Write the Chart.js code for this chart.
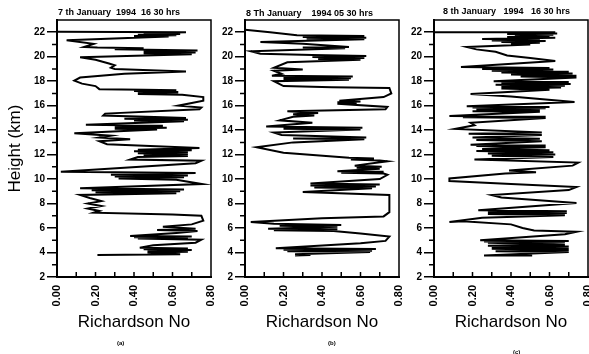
<!DOCTYPE html>
<html><head><meta charset="utf-8">
<script src="https://cdn.jsdelivr.net/npm/chart.js@4/dist/chart.umd.min.js"></script>
<style>
html,body{margin:0;padding:0;background:#fff;}
#wrap{position:relative;width:589px;height:354px;overflow:hidden;background:#fff;}
canvas{position:absolute;left:0;top:0;}
.t{position:absolute;font-family:'Liberation Sans',Arial,sans-serif;font-weight:bold;white-space:pre;color:#000;line-height:1;}
</style></head><body>
<div id="wrap">
<canvas id="ca" width="700" height="354" style="width:700px;height:354px"></canvas>
<canvas id="cb" width="700" height="354" style="width:700px;height:354px"></canvas>
<canvas id="cc" width="700" height="354" style="width:700px;height:354px"></canvas>
<div class="t" style="left:58px;top:8px;font-size:9px">7 th January  1994  16 30 hrs</div>
<div class="t" style="left:246px;top:9px;font-size:9px">8 Th January    1994 05 30 hrs</div>
<div class="t" style="left:443px;top:7px;font-size:9px">8 th January   1994   16 30 hrs</div>
<div class="t" style="left:117px;top:340px;font-size:6px">(a)</div>
<div class="t" style="left:328px;top:340px;font-size:6px">(b)</div>
<div class="t" style="left:513px;top:349px;font-size:6px">(c)</div>
</div>
<script>
// [height km, Richardson number] along each profile
const profileA = [[22.05,0.00],[22.0,0.67],[21.9,0.45],[21.85,0.64],[21.8,0.42],[21.75,0.62],[21.7,0.40],[21.65,0.58],[21.35,0.05],[21.05,0.19],[20.8,0.14],[20.75,0.21],[20.7,0.45],[20.6,0.30],[20.5,0.73],[20.42,0.45],[20.35,0.72],[20.28,0.45],[20.2,0.70],[19.95,0.12],[19.75,0.20],[19.45,0.27],[19.3,0.30],[19.1,0.28],[19.0,0.30],[18.8,0.67],[18.6,0.35],[18.3,0.12],[18.05,0.09],[17.8,0.13],[17.6,0.20],[17.35,0.22],[17.3,0.45],[17.25,0.62],[17.2,0.40],[17.12,0.63],[17.05,0.42],[17.0,0.63],[16.95,0.42],[16.9,0.65],[16.7,0.76],[16.4,0.76],[16.0,0.63],[15.85,0.75],[15.7,0.74],[15.35,0.25],[15.2,0.24],[15.05,0.55],[15.0,0.67],[14.93,0.35],[14.85,0.68],[14.78,0.40],[14.72,0.66],[14.45,0.15],[14.35,0.55],[14.28,0.30],[14.2,0.57],[14.12,0.30],[14.05,0.52],[13.75,0.09],[13.55,0.28],[13.4,0.22],[13.25,0.38],[13.1,0.22],[12.85,0.26],[12.55,0.74],[12.4,0.42],[12.35,0.70],[12.28,0.40],[12.2,0.68],[12.12,0.42],[12.05,0.68],[11.95,0.45],[11.88,0.68],[11.8,0.42],[11.6,0.38],[11.5,0.75],[11.3,0.72],[10.6,0.02],[10.5,0.72],[10.35,0.28],[10.3,0.68],[10.22,0.30],[10.15,0.66],[10.05,0.32],[9.95,0.62],[9.6,0.75],[9.25,0.12],[9.15,0.66],[9.08,0.18],[9.0,0.64],[8.92,0.20],[8.85,0.62],[8.7,0.12],[8.45,0.17],[8.2,0.23],[8.0,0.16],[7.8,0.23],[7.6,0.16],[7.4,0.22],[7.25,0.19],[7.1,0.60],[7.0,0.75],[6.6,0.76],[6.3,0.70],[6.1,0.55],[5.95,0.72],[5.85,0.52],[5.75,0.73],[5.6,0.62],[5.35,0.38],[5.3,0.70],[5.25,0.40],[5.2,0.68],[5.15,0.42],[5.05,0.75],[4.8,0.72],[4.6,0.50],[4.4,0.43],[4.33,0.68],[4.27,0.45],[4.2,0.70],[4.13,0.47],[4.07,0.68],[4.0,0.47],[3.85,0.64],[3.8,0.21]];
const profileB = [[22.2,0.00],[22.0,0.13],[21.75,0.27],[21.7,0.62],[21.62,0.30],[21.55,0.63],[21.48,0.32],[21.42,0.62],[21.2,0.08],[21.05,0.30],[20.8,0.54],[20.75,0.30],[20.7,0.52],[20.45,0.03],[20.25,0.08],[20.15,0.35],[20.05,0.63],[19.98,0.35],[19.9,0.62],[19.82,0.38],[19.75,0.60],[19.55,0.22],[19.1,0.15],[18.95,0.30],[18.85,0.15],[18.6,0.19],[18.45,0.14],[18.38,0.56],[18.3,0.20],[18.25,0.55],[18.18,0.20],[18.12,0.54],[18.0,0.15],[17.6,0.20],[17.5,0.45],[17.45,0.75],[17.0,0.76],[16.7,0.72],[16.4,0.49],[16.35,0.60],[16.28,0.48],[16.22,0.58],[16.15,0.48],[15.9,0.74],[15.7,0.73],[15.55,0.22],[15.4,0.38],[15.3,0.25],[15.2,0.36],[15.1,0.25],[14.8,0.18],[14.6,0.35],[14.3,0.11],[14.2,0.61],[14.12,0.20],[14.05,0.60],[13.8,0.15],[13.6,0.19],[13.4,0.63],[13.32,0.25],[13.25,0.62],[13.0,0.25],[12.6,0.06],[12.15,0.20],[11.75,0.54],[11.68,0.67],[11.6,0.55],[11.52,0.70],[11.45,0.74],[11.1,0.57],[11.0,0.71],[10.92,0.58],[10.85,0.70],[10.65,0.48],[10.6,0.72],[10.52,0.50],[10.45,0.72],[10.35,0.74],[10.0,0.70],[9.65,0.34],[9.55,0.70],[9.48,0.34],[9.4,0.68],[9.32,0.36],[9.25,0.66],[8.95,0.30],[8.7,0.75],[7.3,0.75],[6.95,0.72],[6.8,0.40],[6.5,0.03],[6.35,0.15],[6.25,0.50],[6.18,0.18],[6.1,0.48],[5.95,0.12],[5.9,0.48],[5.82,0.15],[5.75,0.46],[5.55,0.60],[5.3,0.75],[4.95,0.73],[4.75,0.60],[4.35,0.16],[4.28,0.68],[4.22,0.20],[4.15,0.66],[4.1,0.22],[4.05,0.65],[3.85,0.26],[3.8,0.34],[3.75,0.26]];
const profileC = [[22.0,0.00],[22.0,0.63],[21.95,0.40],[21.9,0.64],[21.85,0.38],[21.8,0.62],[21.75,0.42],[21.7,0.60],[21.62,0.38],[21.55,0.63],[21.45,0.25],[21.4,0.55],[21.33,0.30],[21.28,0.58],[21.2,0.35],[21.15,0.55],[21.08,0.40],[21.0,0.50],[20.8,0.17],[20.6,0.22],[20.4,0.32],[20.1,0.38],[19.9,0.50],[19.65,0.63],[19.15,0.14],[19.08,0.60],[19.0,0.25],[18.95,0.62],[18.85,0.30],[18.78,0.70],[18.7,0.35],[18.62,0.72],[18.55,0.40],[18.45,0.74],[18.38,0.45],[18.3,0.74],[18.0,0.31],[17.93,0.70],[17.85,0.35],[17.78,0.71],[17.7,0.32],[17.62,0.68],[17.55,0.35],[17.48,0.66],[17.4,0.35],[17.3,0.60],[16.95,0.19],[16.75,0.40],[16.3,0.73],[15.95,0.17],[15.9,0.60],[15.85,0.20],[15.78,0.58],[15.7,0.22],[15.62,0.55],[15.55,0.20],[15.5,0.55],[15.15,0.08],[15.1,0.58],[15.05,0.15],[15.0,0.58],[14.6,0.19],[14.4,0.21],[14.1,0.11],[13.8,0.56],[13.7,0.18],[13.6,0.56],[13.4,0.20],[13.3,0.55],[13.2,0.22],[13.1,0.56],[12.8,0.19],[12.75,0.58],[12.7,0.22],[12.6,0.58],[12.45,0.25],[12.35,0.60],[12.3,0.22],[12.2,0.62],[12.1,0.28],[12.0,0.63],[11.9,0.30],[11.8,0.62],[11.6,0.21],[11.35,0.75],[11.1,0.72],[10.7,0.39],[10.55,0.53],[10.45,0.37],[10.05,0.08],[9.85,0.08],[9.6,0.40],[9.35,0.74],[9.1,0.70],[8.7,0.30],[8.5,0.35],[8.05,0.74],[7.45,0.23],[7.38,0.69],[7.3,0.28],[7.22,0.69],[7.15,0.28],[7.05,0.68],[6.85,0.25],[6.5,0.08],[6.55,0.15],[6.3,0.40],[6.0,0.46],[5.8,0.52],[5.7,0.74],[5.5,0.68],[5.0,0.24],[4.95,0.70],[4.9,0.26],[4.85,0.68],[4.8,0.28],[4.65,0.68],[4.55,0.28],[4.5,0.70],[4.4,0.30],[4.35,0.70],[4.3,0.30],[4.2,0.70],[4.1,0.32],[4.05,0.70],[3.75,0.26],[3.75,0.51]];

const yTickLabels = [2,4,6,8,10,12,14,16,18,20,22];
const yMinorTicks = [3,5,7,9,11,13,15,17,19,21];
const xTickLabels = ['0.00','0.20','0.40','0.60','0.80'];
const xInnerTicks = [0.1,0.2,0.3,0.4,0.5,0.6,0.7];

const FONT = "'Liberation Sans', Arial, sans-serif";

const framePlugin = {
  id: 'frame',
  afterDraw(chart) {
    const {ctx, chartArea: {left, right, top, bottom}, scales: {x, y}} = chart;
    ctx.save();
    ctx.strokeStyle = '#000';
    ctx.lineWidth = 1.5;
    ctx.beginPath();
    ctx.moveTo(left - 1, top);
    ctx.lineTo(right, top);
    ctx.lineTo(right, bottom);
    ctx.stroke();
    ctx.beginPath();
    for (const v of xInnerTicks) {
      const px = x.getPixelForValue(v);
      ctx.moveTo(px, bottom);
      ctx.lineTo(px, bottom - 5);
    }
    for (const v of yMinorTicks) {
      const py = y.getPixelForValue(v);
      ctx.moveTo(left - 5, py);
      ctx.lineTo(left, py);
    }
    ctx.stroke();
    ctx.restore();
  }
};

function makePanel(id, profile, L, R, showYTitle) {
  const W = 700, T = 20, B = 277, H = 354;
  new Chart(document.getElementById(id), {
    type: 'scatter',
    data: {
      datasets: [{
        data: profile.map(p => ({x: p[1], y: p[0]})),
        showLine: true,
        borderColor: '#000',
        borderWidth: 2,
        pointRadius: 0,
        tension: 0,
        fill: false
      }]
    },
    options: {
      responsive: false,
      animation: false,
      devicePixelRatio: 1,
      layout: {padding: {left: 0, right: W - R, top: T, bottom: 0}},
      plugins: {legend: {display: false}, tooltip: {enabled: false}},
      scales: {
        x: {
          type: 'linear', min: 0, max: 0.8,
          afterFit: s => { s.height = H - B; },
          ticks: {
            stepSize: 0.2, autoSkip: false, minRotation: 90, maxRotation: 90,
            color: '#000', padding: 8,
            font: {family: FONT, size: 11, weight: 'bold'},
            callback: (v) => { const i = Math.round(v / 0.2); return xTickLabels[i] !== undefined ? xTickLabels[i] : ''; }
          },
          grid: {display: true, drawOnChartArea: false, drawTicks: false},
          border: {display: true, color: '#000', width: 2},
          title: {display: true, text: 'Richardson No', color: '#000',
                  font: {family: FONT, size: 17}, padding: {top: 0, bottom: 21}}
        },
        y: {
          type: 'linear', min: 2, max: 23,
          afterFit: s => { s.width = L; },
          ticks: {
            stepSize: 2, includeBounds: false, color: '#000', padding: 2,
            font: {family: FONT, size: 10, weight: 'bold'},
            callback: (v) => yTickLabels.includes(v) ? String(v) : ''
          },
          grid: {display: true, drawOnChartArea: false, drawTicks: true, tickLength: 10,
                 color: '#000', lineWidth: 1.5},
          border: {display: true, color: '#000', width: 2},
          title: {display: showYTitle, text: 'Height (km)', color: '#000',
                  font: {family: FONT, size: 17}, padding: {top: 5, bottom: 0}}
        }
      }
    },
    plugins: [framePlugin]
  });
}

makePanel('ca', profileA, 57, 211, true);
makePanel('cb', profileB, 245, 399, false);
makePanel('cc', profileC, 434, 588, false);
</script>
</body></html>
